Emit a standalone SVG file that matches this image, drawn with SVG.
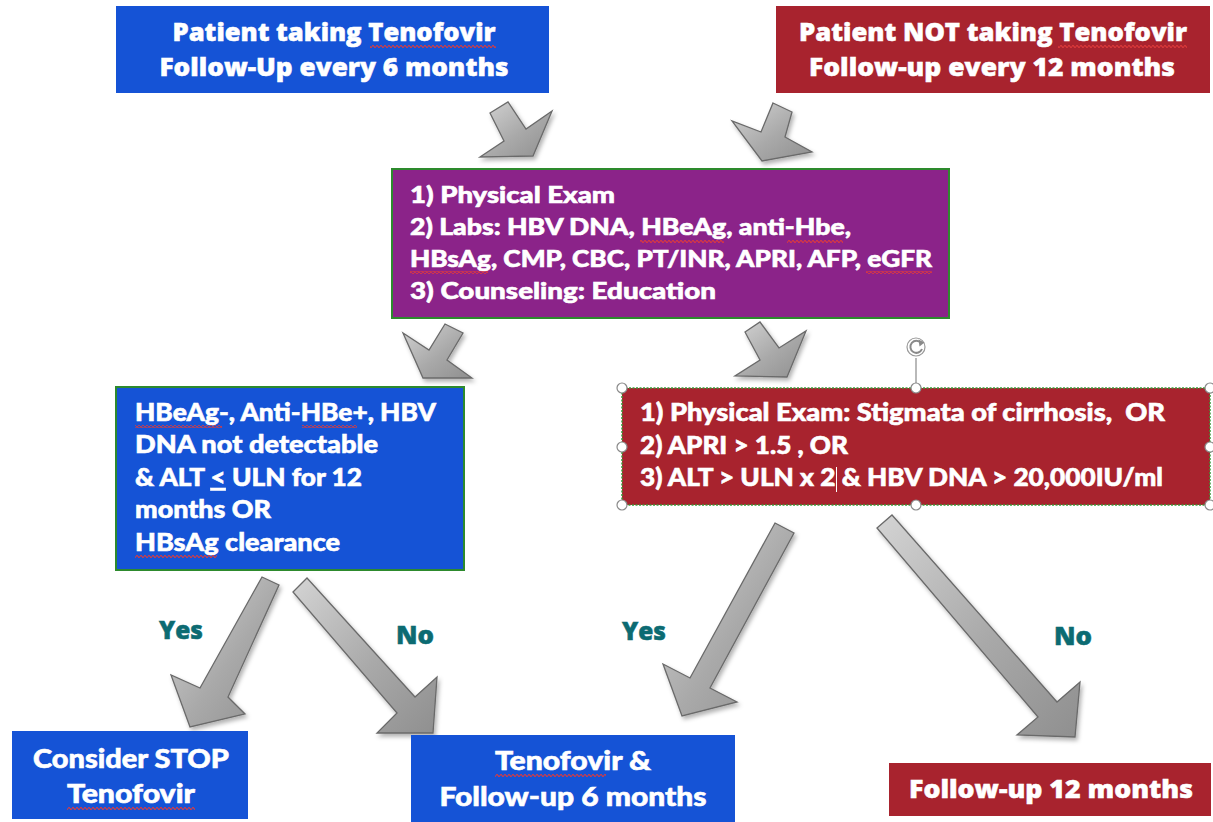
<svg xmlns="http://www.w3.org/2000/svg" width="1213" height="822" viewBox="0 0 1213 822">
<defs>
<linearGradient id="ag" x1="0" y1="0" x2="1" y2="1">
<stop offset="0" stop-color="#d4d4d4"/>
<stop offset="0.55" stop-color="#a9a9a9"/>
<stop offset="1" stop-color="#8f8f8f"/>
</linearGradient>
<filter id="sh" x="-20%" y="-20%" width="150%" height="150%">
<feDropShadow dx="2" dy="3" stdDeviation="2" flood-color="#000" flood-opacity="0.3"/>
</filter>
<pattern id="squig" width="4" height="3" patternUnits="userSpaceOnUse">
<path d="M0,1.5 L1,0.3 L2,1.5 L3,2.7 L4,1.5" fill="none" stroke="#e03a3a" stroke-width="1.1"/>
</pattern>
<style>
.blue{fill:#1553d6}
.red{fill:#a8232e}
.purple{fill:#8b2389}
.gb{stroke:#2d8a2d;stroke-width:2}
.arr{fill:url(#ag);stroke:#6a6a6a;stroke-width:1.3;stroke-linejoin:miter;filter:url(#sh)}
.t{font-family:"Open Sans","Liberation Sans",sans-serif;font-weight:800;fill:#fff;stroke:#fff;stroke-width:0.5}
.m{font-family:Lato,"Open Sans","Liberation Sans",sans-serif;font-weight:900;fill:#fff;stroke:#fff;stroke-width:0.6}
.lbl{font-family:"Open Sans","Liberation Sans",sans-serif;font-weight:800;fill:#0c6b72;stroke:#0c6b72;stroke-width:0.5;font-size:25px}
.hd{fill:#fff;stroke:#8a8a8a;stroke-width:1.2}
.sq{fill:url(#squig)}
</style>
</defs>
<rect width="1213" height="822" fill="#fff"/>

<g id="connectors">
<polygon class="arr" points="490,113 508,102 526,129 552,111 533,156 480,157 504,141"/>
<polygon class="arr" points="773,103 792,112 785,137 812,152 762,161 732,121 761,132"/>
<polygon class="arr" points="445,324 463,333 447,360 472,378 423,378 403,333 429,350"/>
<polygon class="arr" points="745,332 760,322 779,348 806,331 787,377 735,376 760,360"/>
<polygon class="arr" points="262,577 279,585 228,697 245,714 190,727 171,675 200,688"/>
<polygon class="arr" points="293,592 307,578 415,697 437,677 433,733 377,733 397,713"/>
<polygon class="arr" points="775,523 794,533 710,688 737,702 682,716 663,664 690,678"/>
<polygon class="arr" points="877,528 892,515 1057,702 1080,682 1075,737 1017,735 1038,717"/>
<text class="lbl" x="159" y="639" textLength="44" lengthAdjust="spacingAndGlyphs">Yes</text>
<text class="lbl" x="396" y="644" textLength="38" lengthAdjust="spacingAndGlyphs">No</text>
<text class="lbl" x="622" y="640" textLength="44" lengthAdjust="spacingAndGlyphs">Yes</text>
<text class="lbl" x="1054" y="645" textLength="38" lengthAdjust="spacingAndGlyphs">No</text>
</g>

<g id="n-taking">
<rect class="blue" x="116" y="6" width="433" height="87"/>
<text class="t" font-size="25" x="334" y="41" text-anchor="middle" textLength="323" lengthAdjust="spacingAndGlyphs">Patient taking Tenofovir</text>
<text class="t" font-size="25" x="334" y="76" text-anchor="middle" textLength="349" lengthAdjust="spacingAndGlyphs">Follow-Up every 6 months</text>
<rect class="sq" x="370" y="45" width="126" height="3"/>
</g>

<g id="n-not-taking">
<rect class="red" x="776" y="6" width="434" height="87"/>
<text class="t" font-size="25" x="993" y="41" text-anchor="middle" textLength="388" lengthAdjust="spacingAndGlyphs">Patient NOT taking Tenofovir</text>
<text class="t" font-size="25" x="992" y="76" text-anchor="middle" textLength="366" lengthAdjust="spacingAndGlyphs">Follow-up every 12 months</text>
<rect class="sq" x="1058" y="45" width="129" height="3"/>
</g>

<g id="n-followup">
<rect class="purple gb" x="392" y="169" width="557" height="149"/>
<text class="m" font-size="23" x="410" y="203" textLength="205" lengthAdjust="spacingAndGlyphs">1) Physical Exam</text>
<text class="m" font-size="23" x="410" y="235" textLength="441" lengthAdjust="spacingAndGlyphs">2) Labs: HBV DNA, HBeAg, anti-Hbe,</text>
<text class="m" font-size="23" x="410" y="267" textLength="522" lengthAdjust="spacingAndGlyphs">HBsAg, CMP, CBC, PT/INR, APRI, AFP, eGFR</text>
<text class="m" font-size="23" x="410" y="299" textLength="306" lengthAdjust="spacingAndGlyphs">3) Counseling: Education</text>
<rect class="sq" x="640" y="240" width="84" height="3"/>
<rect class="sq" x="787" y="240" width="56" height="3"/>
<rect class="sq" x="410" y="271" width="78" height="3"/>
<rect class="sq" x="866" y="271" width="66" height="3"/>
</g>

<g id="n-stop-criteria">
<rect class="blue gb" x="116" y="387" width="348" height="183"/>
<text class="m" font-size="25" x="135" y="421" textLength="301" lengthAdjust="spacingAndGlyphs">HBeAg-, Anti-HBe+, HBV</text>
<text class="m" font-size="25" x="135" y="453" textLength="243" lengthAdjust="spacingAndGlyphs">DNA not detectable</text>
<text class="m" font-size="25" x="135" y="486" textLength="227" lengthAdjust="spacingAndGlyphs">&amp; ALT <tspan text-decoration="underline">&lt;</tspan> ULN for 12</text>
<text class="m" font-size="25" x="135" y="518" textLength="136" lengthAdjust="spacingAndGlyphs">months OR</text>
<text class="m" font-size="25" x="135" y="551" textLength="205" lengthAdjust="spacingAndGlyphs">HBsAg clearance</text>
<rect class="sq" x="135" y="425" width="87" height="3"/>
<rect class="sq" x="302" y="425" width="55" height="3"/>
<rect class="sq" x="135" y="555" width="82" height="3"/>
</g>

<g id="n-treat-criteria">
<rect class="red" x="622" y="388" width="588" height="117"/>
<rect x="622" y="388" width="588" height="117" fill="none" stroke="#3a9a3a" stroke-width="1.5" stroke-dasharray="2,1.5"/>
<text class="m" font-size="24" x="640" y="421" textLength="525" lengthAdjust="spacingAndGlyphs">1) Physical Exam: Stigmata of cirrhosis,&#160; OR</text>
<text class="m" font-size="24" x="640" y="454" textLength="208" lengthAdjust="spacingAndGlyphs">2) APRI &gt; 1.5 , OR</text>
<text class="m" font-size="24" x="640" y="486" textLength="523" lengthAdjust="spacingAndGlyphs">3) ALT &gt; ULN x 2 &amp; HBV DNA &gt; 20,000IU/ml</text>
<line x1="836.5" y1="467" x2="836.5" y2="492" stroke="#fff" stroke-width="1"/>
<line x1="916" y1="358" x2="916" y2="383" stroke="#8a8a8a" stroke-width="1.2"/>
<circle cx="916" cy="347" r="9" fill="#fff" stroke="#9a9a9a" stroke-width="1.2"/>
<path d="M921,343 A6,6 0 1 0 922,349" fill="none" stroke="#8a8a8a" stroke-width="2"/>
<path d="M918.5,339.5 L924.5,342.5 L919.5,346.5 Z" fill="#8a8a8a"/>
<circle class="hd" cx="622" cy="388" r="5"/>
<circle class="hd" cx="916" cy="388" r="5"/>
<circle class="hd" cx="1210" cy="388" r="5"/>
<circle class="hd" cx="622" cy="447" r="5"/>
<circle class="hd" cx="1210" cy="447" r="5"/>
<circle class="hd" cx="622" cy="505" r="5"/>
<circle class="hd" cx="916" cy="505" r="5"/>
<circle class="hd" cx="1210" cy="505" r="5"/>
</g>

<g id="n-stop">
<rect class="blue" x="12" y="731" width="236" height="88"/>
<text class="m" font-size="26" x="131" y="768" text-anchor="middle" textLength="196" lengthAdjust="spacingAndGlyphs">Consider STOP</text>
<text class="m" font-size="26" x="131" y="803" text-anchor="middle" textLength="128" lengthAdjust="spacingAndGlyphs">Tenofovir</text>
<rect class="sq" x="67" y="807" width="128" height="3"/>
</g>

<g id="n-continue">
<rect class="blue" x="411" y="735" width="324" height="87"/>
<text class="m" font-size="26" x="573" y="770" text-anchor="middle" textLength="156" lengthAdjust="spacingAndGlyphs">Tenofovir &amp;</text>
<text class="m" font-size="26" x="573" y="806" text-anchor="middle" textLength="267" lengthAdjust="spacingAndGlyphs">Follow-up 6 months</text>
<rect class="sq" x="495" y="774" width="111" height="3"/>
</g>

<g id="n-followup12">
<rect class="red" x="889" y="763" width="322" height="53"/>
<text class="t" font-size="24" x="1051" y="798" text-anchor="middle" textLength="284" lengthAdjust="spacingAndGlyphs">Follow-up 12 months</text>
</g>
</svg>
